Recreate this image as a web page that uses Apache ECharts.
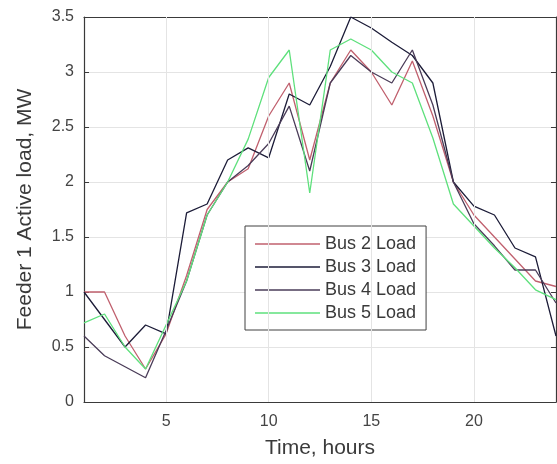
<!DOCTYPE html>
<html><head><meta charset="utf-8">
<script src="https://cdn.jsdelivr.net/npm/echarts@6/dist/echarts.min.js"></script>
<style>html,body{margin:0;padding:0;background:#fff}#c{width:557px;height:464px}</style>
</head><body><div id="c"></div>
<script>
const hours = [1,2,3,4,5,6,7,8,9,10,11,12,13,14,15,16,17,18,19,20,21,22,23,24];
const bus2 = [1.0,1.0,0.6,0.3,0.62,1.15,1.75,2.0,2.12,2.6,2.9,2.2,2.9,3.2,3.0,2.7,3.1,2.6,2.0,1.7,1.5,1.3,1.1,1.05];
const bus3 = [1.0,0.75,0.5,0.7,0.62,1.72,1.8,2.2,2.31,2.22,2.8,2.7,3.05,3.5,3.4,3.27,3.15,2.9,2.0,1.78,1.7,1.4,1.32,0.6];
const bus4 = [0.6,0.42,0.32,0.22,0.65,1.1,1.7,2.0,2.15,2.35,2.69,2.1,2.9,3.15,3.0,2.9,3.2,2.7,2.0,1.62,1.42,1.2,1.2,0.9];
const bus5 = [0.72,0.8,0.5,0.3,0.7,1.1,1.7,2.0,2.39,2.95,3.2,1.9,3.2,3.3,3.2,3.0,2.9,2.4,1.8,1.6,1.4,1.22,1.02,0.93];
const xTicks = [5,10,15,20];
const names = ['Bus 2 Load','Bus 3 Load','Bus 4 Load','Bus 5 Load'];
const colors = ['#c0606e','#1c1c38','#4a3c58','#5ee07c'];
const seriesData = [bus2,bus3,bus4,bus5];

const axisColor = '#3a3a3a';
const font = 'Liberation Sans, Arial, sans-serif';
const chart = echarts.init(document.getElementById('c'));
const series = seriesData.map((d,i)=>({
  name: names[i], type:'line', symbol:'none', xAxisIndex:0, yAxisIndex:0,
  data: hours.map((h,j)=>[h,d[j]]),
  lineStyle:{color:colors[i], width:1.3}, itemStyle:{color:colors[i]},
  z: 3
}));
series.push({
  type:'line', data:[], xAxisIndex:0, yAxisIndex:0, silent:true,
  markLine:{silent:true, symbol:'none', label:{show:false},
    lineStyle:{color:'#e4e4e4', type:'solid', width:1},
    data: xTicks.map(v=>({xAxis:v}))}, z:1
});
chart.setOption({
  animation:false,
  grid:{left:84, right:1, top:17, bottom:60},
  legend:{
    data:names.map((n,i)=>({name:n, icon:'rect', itemStyle:{color:colors[i]}})),
    orient:'vertical', left:245, top:226,
    padding:[9,10,8,10], itemGap:5, itemWidth:65, itemHeight:1.5,
    borderColor:'#404040', borderWidth:1, backgroundColor:'#fff',
    textStyle:{fontFamily:font, fontSize:18, color:'#3a3a3a'}
  },
  xAxis:[{
    type:'value', min:1, max:24,
    name:'Time, hours', nameLocation:'middle', nameGap:36,
    nameTextStyle:{fontFamily:font, fontSize:21, color:'#3a3a3a'},
    axisLine:{show:true, lineStyle:{color:axisColor, width:1.2}},
    axisTick:{show:true, inside:true, length:5, customValues:xTicks, lineStyle:{color:axisColor}},
    axisLabel:{customValues:xTicks, fontFamily:font, fontSize:16, color:'#444', margin:12},
    splitLine:{show:false}
  },{
    type:'value', min:1, max:24, position:'top',
    axisLine:{show:true, onZero:false, lineStyle:{color:axisColor, width:1.2}},
    axisTick:{show:true, inside:true, length:5, customValues:xTicks, lineStyle:{color:axisColor}},
    axisLabel:{show:false}, splitLine:{show:false}
  }],
  yAxis:[{
    type:'value', min:0, max:3.5, interval:0.5,
    name:'Feeder 1 Active load, MW', nameLocation:'middle', nameGap:48,
    nameTextStyle:{fontFamily:font, fontSize:21, color:'#3a3a3a'},
    axisLine:{show:true, lineStyle:{color:axisColor, width:1.2}},
    axisTick:{show:true, inside:true, length:5, lineStyle:{color:axisColor}},
    axisLabel:{fontFamily:font, fontSize:16, color:'#444', margin:10},
    splitLine:{show:true, lineStyle:{color:'#e4e4e4', width:1}}
  },{
    type:'value', min:0, max:3.5, interval:0.5, position:'right',
    axisLine:{show:true, onZero:false, lineStyle:{color:axisColor, width:1.2}},
    axisTick:{show:true, inside:true, length:5, lineStyle:{color:axisColor}},
    axisLabel:{show:false}, splitLine:{show:false}
  }],
  series: series
});
</script></body></html>
